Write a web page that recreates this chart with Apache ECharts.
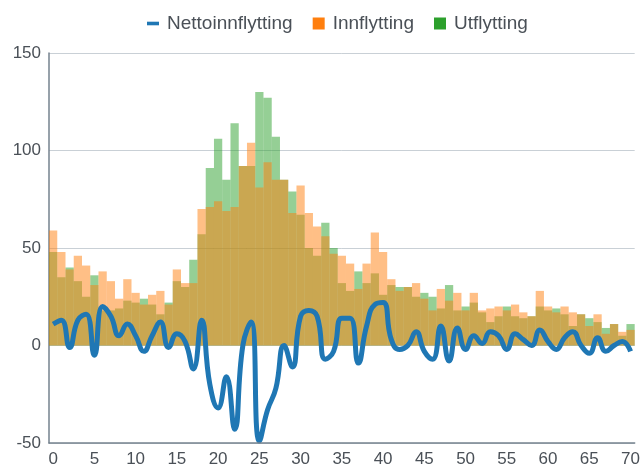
<!DOCTYPE html>
<html>
<head>
<meta charset="utf-8">
<script src="https://cdn.jsdelivr.net/npm/echarts@6/dist/echarts.min.js"></script>
<style>
html, body { margin:0; padding:0; background:#fff; }
#chart { width:643px; height:468px; }
</style>
</head>
<body>
<div id="chart"></div>
<script>
// alder 0..70
const ages = []
for (let a = 0; a <= 70; a++) ages.push(String(a))

const innflytting = [59,48,39,46,41,31,38,33,24,34,27,21,26,28,21,39,32,32,70,71,
  74,69,71,92,104,81,94,85,85,68,82,68,61,56,47,46,42,29,42,58,
  48,34,28,30,32,24,18,29,23,27,18,27,18,19,20,18,21,17,15,28,
  20,17,20,17,16,10,16,6,11,7,8]
const utflytting = [48,35,40,33,25,36,18,18,19,23,22,24,21,16,22,33,30,44,57,91,
  106,85,114,92,92,130,127,107,85,79,67,50,46,63,50,32,28,38,32,37,
  26,31,30,30,25,27,25,19,31,18,20,22,17,12,15,20,15,14,15,20,
  18,19,16,10,16,14,12,9,11,5,11]
const nettoinnflytting = [11,13,-1,13,16,-5,20,15,5,11,5,-3,5,12,-1,6,2,-12,13,-20,
  -32,-16,-43,0,12,-49,-33,-22,0,-11,15,18,15,-7,-3,14,14,-9,10,21,
  22,3,-2,0,7,-3,-7,10,-8,9,-2,5,1,7,5,-2,6,3,0,8,
  2,-2,4,7,0,-4,4,-3,0,2,-3]

const font = 'Liberation Sans, Arial, sans-serif'
const textColor = '#4a5057'

const options = {
  animation:false,
  textStyle:{fontFamily:font},
  legend:{
    top:9,
    left:142,
    itemWidth:12,
    itemHeight:12,
    itemGap:20,
    textStyle:{fontSize:19, color:textColor, fontFamily:font, padding:[0,0,0,3]},
    data:[
      {name:'Nettoinnflytting', icon:'path://M0,0H10V3H0Z', itemStyle:{color:'#1f77b4'}},
      {name:'Innflytting', icon:'rect', itemStyle:{color:'#ff7f0e', opacity:1}},
      {name:'Utflytting', icon:'rect', itemStyle:{color:'#2ca02c', opacity:1}}
    ]
  },
  grid:{left:49, right:6, top:53, bottom:23},
  xAxis:{
    type:'category',
    data:ages,
    axisLine:{onZero:false, lineStyle:{color:'#75828e', width:1.5}},
    axisTick:{show:false},
    axisLabel:{interval:4, fontSize:17, color:textColor, margin:8, fontFamily:font},
    z:10
  },
  yAxis:{
    type:'value',
    min:-50,
    max:150,
    interval:50,
    axisLine:{show:true, lineStyle:{color:'#75828e', width:1.5}},
    axisTick:{show:false},
    axisLabel:{fontSize:17, color:textColor, margin:8, fontFamily:font},
    splitLine:{lineStyle:{color:'#c9d0d6'}}
  },
  series:[
    {
      name:'Nettoinnflytting',
      type:'line',
      z:5,
      data:nettoinnflytting,
      smooth:true,
      showSymbol:false,
      symbol:'none',
      lineStyle:{color:'#1f77b4', width:5},
      itemStyle:{color:'#1f77b4'}
    },
    {
      name:'Innflytting',
      type:'bar',
      z:3,
      data:innflytting,
      barGap:'-100%',
      barCategoryGap:0,
      itemStyle:{color:'rgba(255,127,14,0.5)'}
    },
    {
      name:'Utflytting',
      type:'bar',
      z:2,
      data:utflytting,
      barGap:'-100%',
      barCategoryGap:0,
      itemStyle:{color:'rgba(44,160,44,0.5)'}
    }
  ]
}

const chart = echarts.init(document.getElementById('chart'))
chart.setOption(options)
</script>
</body>
</html>
